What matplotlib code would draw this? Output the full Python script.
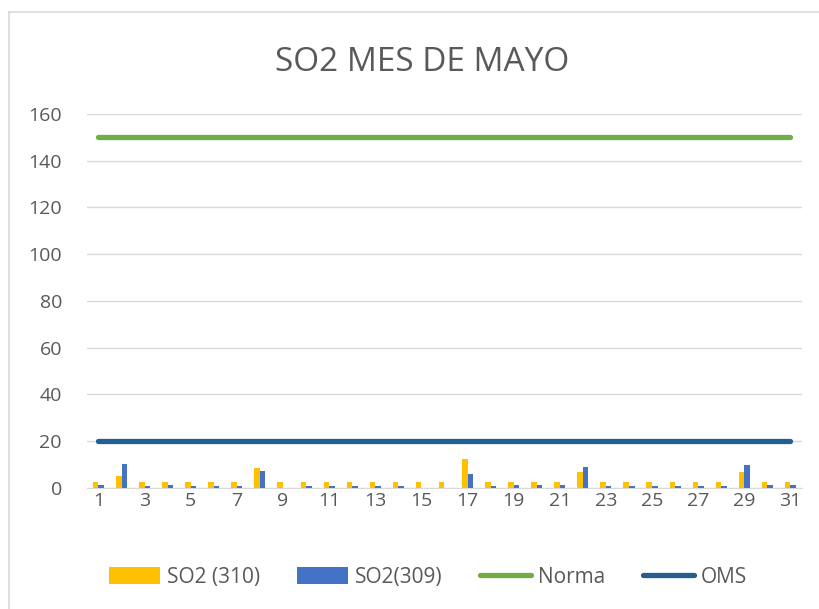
import numpy as np
from matplotlib import pyplot as plt
from matplotlib.lines import Line2D

days = list(range(1, 32))
so2_310 = [2.5, 5.0, 2.5, 2.5, 2.5, 2.5, 2.5, 8.4, 2.5, 2.5,
           2.5, 2.5, 2.5, 2.5, 2.5, 2.5, 12.3, 2.5, 2.5, 2.5,
           2.5, 6.8, 2.5, 2.5, 2.5, 2.5, 2.5, 2.5, 6.8, 2.5, 2.5]
so2_309 = [1.3, 10.2, 0.7, 1.3, 0.7, 0.7, 0.7, 7.3, 0.0, 0.7,
           0.7, 0.7, 0.7, 0.7, 0.0, 0.0, 5.8, 0.7, 1.3, 1.3,
           1.3, 9.0, 0.7, 0.7, 0.7, 0.7, 0.7, 0.7, 9.8, 1.3, 1.3]
norma = [150] * 31
oms = [20] * 31
tick_labels = [str(d) if d % 2 == 1 else "" for d in days]

plt.rcParams['font.family'] = ['Open Sans', 'DejaVu Sans']
text_color = '#595959'

fig = plt.figure(figsize=(8.2, 6.09), dpi=100)
ax = fig.add_axes([0.106, 0.199, 0.872, 0.614])

x = np.arange(len(days))
w = 0.24
b1 = ax.bar(x - w / 2, so2_310, width=w, color='#FFC000', label='SO2 (310)', zorder=3)
b2 = ax.bar(x + w / 2, so2_309, width=w, color='#4472C4', label='SO2(309)', zorder=3)
l1, = ax.plot(x, norma, color='#70AD47', lw=3.8, solid_capstyle='round', label='Norma', zorder=4)
l2, = ax.plot(x, oms, color='#255E91', lw=3.8, solid_capstyle='round', label='OMS', zorder=4)

ax.set_xlim(-0.5, len(days) - 0.5)
ax.set_ylim(0, 160)
ax.set_yticks(range(0, 161, 20))
ax.set_xticks(x)
ax.set_xticklabels(tick_labels)
ax.grid(axis='y', color='#D9D9D9', lw=1, zorder=0)
for s in ['top', 'right', 'left']:
    ax.spines[s].set_visible(False)
ax.spines['bottom'].set_color('#D9D9D9')
ax.tick_params(axis='both', length=0, colors=text_color, labelsize=14)
ax.tick_params(axis='x', pad=3)
ax.tick_params(axis='y', pad=18)

fig.text(0.515, 0.898, 'SO2 MES DE MAYO', ha='center', va='center',
         fontsize=24, color=text_color)

ax.legend(handles=[b1, b2, l1, l2], loc='center', bbox_to_anchor=(0.477, -0.239),
          ncol=4, frameon=False, fontsize=15, labelcolor=text_color,
          handlelength=2.45, handleheight=0.9, handletextpad=0.33, columnspacing=1.8)

# chart area border (left and top edges visible)
fig.add_artist(Line2D([0.011, 0.011], [0, 0.98], transform=fig.transFigure, color='#D9D9D9', lw=1.2))
fig.add_artist(Line2D([0.011, 1.0], [0.98, 0.98], transform=fig.transFigure, color='#D9D9D9', lw=1.2))

fig.savefig('out.png', dpi=100)
